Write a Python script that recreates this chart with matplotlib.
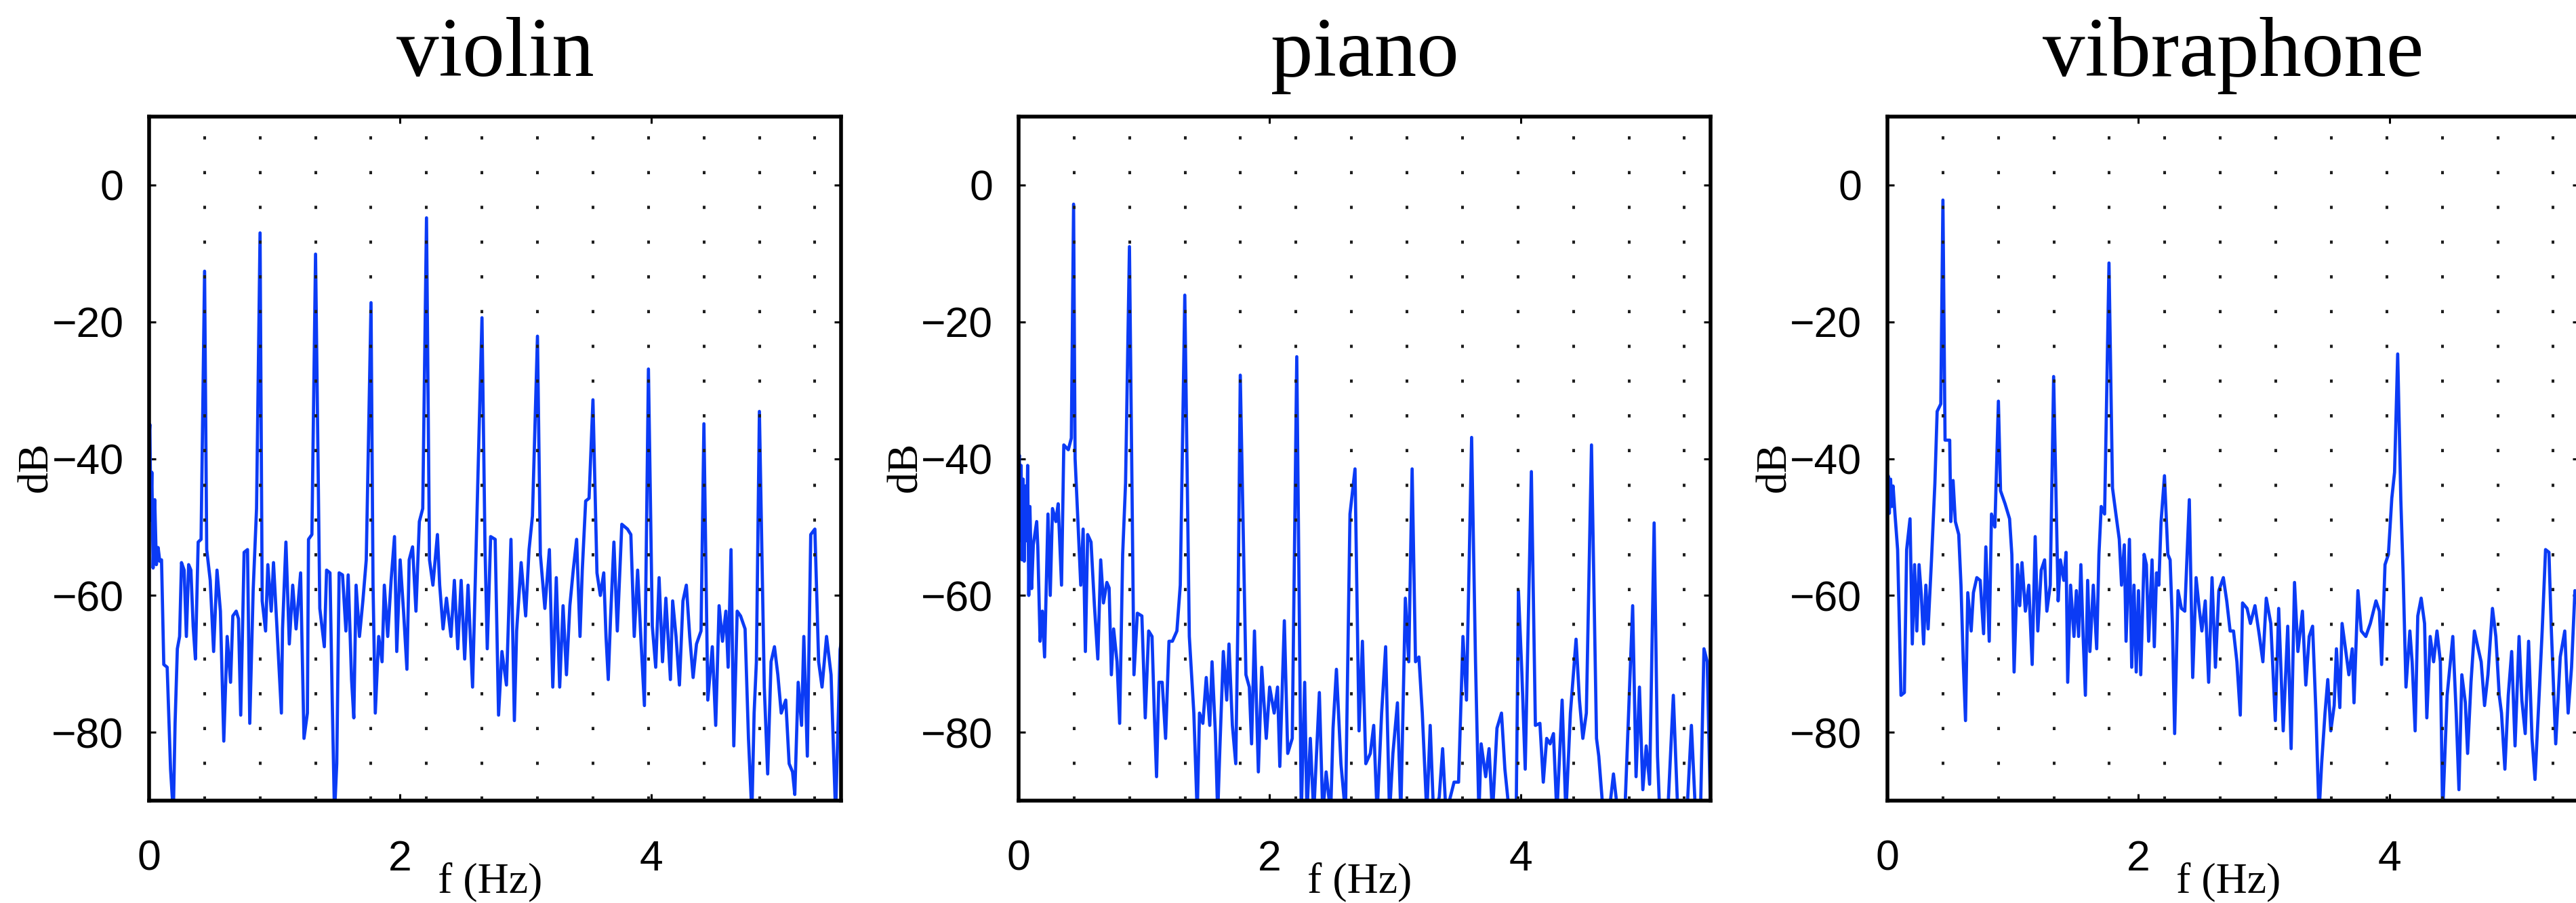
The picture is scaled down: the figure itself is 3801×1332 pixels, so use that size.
import numpy as np
import matplotlib.pyplot as plt

# =============== DATA ===========================================
TITLES = ["violin", "piano", "vibraphone"]
XLIM = (0, 5.5125)
YLIM = (-90, 10)
XTICKS = [0, 2, 4]
YTICKS = [0, -20, -40, -60, -80]
# dotted grid columns sit on the harmonics of the note
GRID_F = [0.442, 0.884, 1.326, 1.768, 2.210, 2.652,
          3.094, 3.536, 3.978, 4.420, 4.862, 5.304]

# (frequency, level dB) vertices of each spectrum
violin = [
    (0.000, -37.0), (0.006, -35.0), (0.014, -49.0), (0.022, -42.0), (0.032, -56.0),
    (0.045, -46.0), (0.058, -55.5), (0.072, -53.0), (0.085, -55.0), (0.099, -54.8),
    (0.117, -70.1), (0.144, -70.5), (0.171, -85.4), (0.193, -92.0), (0.207, -78.7),
    (0.225, -67.8), (0.243, -66.0), (0.258, -55.2), (0.279, -56.3), (0.297, -66.0),
    (0.315, -55.5), (0.333, -56.3), (0.351, -64.5), (0.369, -69.3), (0.391, -52.2),
    (0.414, -51.8), (0.442, -12.6), (0.459, -53.3), (0.487, -57.8), (0.514, -68.2),
    (0.541, -56.3), (0.568, -62.3), (0.595, -81.3), (0.622, -66.0), (0.649, -72.7),
    (0.667, -63.0), (0.694, -62.3), (0.712, -63.4), (0.730, -77.5), (0.757, -53.7),
    (0.784, -53.3), (0.802, -78.7), (0.829, -59.3), (0.856, -47.3), (0.884, -7.0),
    (0.901, -60.8), (0.928, -65.2), (0.946, -55.5), (0.973, -62.3), (0.991, -55.2),
    (1.018, -64.5), (1.054, -77.2), (1.063, -64.9), (1.090, -52.2), (1.117, -67.1),
    (1.144, -58.5), (1.171, -64.9), (1.207, -56.7), (1.234, -80.9), (1.261, -77.2),
    (1.270, -51.8), (1.297, -51.1), (1.326, -10.1), (1.360, -61.9), (1.396, -67.5),
    (1.414, -56.3), (1.441, -56.7), (1.459, -75.3), (1.477, -92.0), (1.495, -84.6),
    (1.514, -56.7), (1.541, -57.0), (1.568, -65.2), (1.586, -57.0), (1.613, -72.3),
    (1.631, -77.9), (1.649, -58.5), (1.676, -66.0), (1.703, -60.8), (1.730, -54.8),
    (1.768, -17.2), (1.784, -58.5), (1.802, -77.2), (1.829, -66.0), (1.856, -69.7),
    (1.874, -58.5), (1.901, -66.0), (1.928, -57.8), (1.955, -51.4), (1.973, -68.2),
    (2.000, -54.8), (2.027, -62.3), (2.054, -70.8), (2.072, -54.8), (2.099, -52.9),
    (2.126, -62.3), (2.153, -49.2), (2.180, -47.3), (2.210, -4.8), (2.234, -54.8),
    (2.261, -58.5), (2.297, -51.1), (2.315, -58.5), (2.342, -64.9), (2.369, -60.4),
    (2.405, -66.0), (2.432, -57.8), (2.459, -67.8), (2.486, -57.8), (2.514, -69.3),
    (2.541, -58.5), (2.577, -73.4), (2.613, -47.3), (2.652, -19.4), (2.676, -52.9),
    (2.694, -67.8), (2.721, -51.4), (2.757, -51.8), (2.784, -77.5), (2.811, -68.2),
    (2.847, -73.1), (2.883, -51.8), (2.910, -78.3), (2.928, -65.2), (2.964, -55.2),
    (3.000, -63.0), (3.027, -53.3), (3.054, -48.4), (3.094, -22.1), (3.117, -54.0),
    (3.153, -61.9), (3.189, -53.3), (3.216, -73.4), (3.244, -57.4), (3.271, -73.4),
    (3.298, -61.5), (3.325, -71.6), (3.352, -61.5), (3.379, -56.3), (3.406, -51.8),
    (3.433, -66.0), (3.451, -56.3), (3.478, -46.2), (3.505, -45.8), (3.536, -31.4),
    (3.568, -56.7), (3.595, -60.0), (3.622, -56.7), (3.640, -66.0), (3.658, -72.3),
    (3.676, -63.4), (3.703, -52.2), (3.730, -65.2), (3.766, -49.6), (3.811, -50.3),
    (3.838, -51.1), (3.865, -66.0), (3.892, -56.3), (3.919, -66.7), (3.946, -76.1),
    (3.978, -26.9), (4.009, -64.5), (4.036, -70.5), (4.063, -57.4), (4.090, -69.7),
    (4.117, -60.4), (4.153, -72.3), (4.171, -60.8), (4.198, -66.0), (4.225, -73.1),
    (4.253, -60.8), (4.280, -58.5), (4.307, -66.0), (4.334, -72.0), (4.361, -67.1),
    (4.397, -65.2), (4.420, -34.9), (4.451, -75.3), (4.487, -67.5), (4.514, -79.0),
    (4.541, -61.5), (4.568, -66.7), (4.595, -62.3), (4.613, -70.5), (4.636, -53.3),
    (4.658, -82.0), (4.685, -62.3), (4.712, -63.0), (4.748, -64.9), (4.775, -80.9),
    (4.802, -92.0), (4.820, -77.2), (4.838, -69.7), (4.862, -33.1), (4.901, -73.4),
    (4.928, -86.1), (4.955, -69.7), (4.982, -67.5), (5.009, -71.6), (5.036, -77.2),
    (5.072, -75.3), (5.099, -84.6), (5.126, -85.8), (5.144, -89.1), (5.171, -72.7),
    (5.198, -79.0), (5.216, -66.0), (5.244, -83.5), (5.271, -51.1), (5.304, -50.3),
    (5.334, -69.7), (5.361, -73.4), (5.397, -66.0), (5.433, -71.6), (5.469, -92.0),
    (5.505, -67.9), (5.5125, -67.0),
]

piano = [
    (0.000, -41.0), (0.006, -39.5), (0.012, -52.0), (0.020, -41.0), (0.027, -54.8),
    (0.036, -43.0), (0.045, -55.0), (0.054, -44.0), (0.063, -52.0), (0.072, -41.0),
    (0.081, -60.0), (0.090, -47.0), (0.104, -59.0), (0.117, -52.6), (0.144, -49.2),
    (0.153, -52.9), (0.171, -66.7), (0.189, -62.3), (0.207, -69.0), (0.234, -48.1),
    (0.252, -60.0), (0.270, -47.3), (0.297, -49.2), (0.315, -46.6), (0.342, -58.5),
    (0.360, -38.0), (0.396, -38.7), (0.420, -37.0), (0.438, -2.8), (0.450, -40.0),
    (0.468, -47.3), (0.495, -58.5), (0.514, -50.3), (0.532, -68.2), (0.550, -51.1),
    (0.577, -52.2), (0.604, -61.5), (0.631, -69.3), (0.654, -54.8), (0.676, -61.1),
    (0.703, -58.1), (0.721, -58.9), (0.739, -71.6), (0.757, -64.9), (0.784, -69.7),
    (0.805, -78.7), (0.829, -54.0), (0.852, -43.6), (0.883, -9.0), (0.919, -71.6),
    (0.946, -62.6), (0.982, -63.0), (1.009, -77.9), (1.036, -65.2), (1.063, -66.0),
    (1.081, -77.2), (1.099, -86.5), (1.117, -72.7), (1.144, -72.7), (1.171, -80.9),
    (1.198, -66.7), (1.225, -66.7), (1.261, -65.2), (1.288, -58.5), (1.324, -16.1),
    (1.360, -66.0), (1.396, -77.2), (1.423, -92.0), (1.441, -77.2), (1.468, -78.7),
    (1.495, -72.0), (1.523, -79.0), (1.541, -69.7), (1.568, -80.2), (1.586, -92.0),
    (1.604, -82.0), (1.631, -68.2), (1.658, -75.3), (1.676, -67.1), (1.703, -79.0),
    (1.730, -84.6), (1.748, -62.3), (1.766, -27.8), (1.811, -71.6), (1.838, -73.4),
    (1.856, -81.7), (1.879, -65.2), (1.910, -85.8), (1.937, -70.5), (1.973, -80.9),
    (2.000, -73.4), (2.036, -77.2), (2.063, -73.4), (2.081, -85.0), (2.117, -63.7),
    (2.144, -83.1), (2.180, -80.9), (2.216, -25.1), (2.252, -92.0), (2.279, -72.7),
    (2.297, -92.0), (2.324, -80.9), (2.351, -92.0), (2.396, -74.2), (2.423, -92.0),
    (2.450, -85.8), (2.486, -92.0), (2.505, -79.4), (2.532, -70.8), (2.568, -84.6),
    (2.604, -92.0), (2.640, -48.1), (2.680, -41.5), (2.712, -79.8), (2.739, -66.7),
    (2.766, -84.6), (2.802, -83.1), (2.829, -79.0), (2.856, -92.0), (2.892, -77.2),
    (2.924, -67.5), (2.955, -92.0), (2.982, -83.1), (3.018, -75.7), (3.045, -92.0),
    (3.081, -60.4), (3.108, -69.7), (3.135, -41.5), (3.162, -69.7), (3.189, -69.0),
    (3.216, -77.2), (3.252, -92.0), (3.279, -79.0), (3.306, -92.0), (3.351, -89.5),
    (3.378, -82.4), (3.405, -92.0), (3.469, -87.3), (3.505, -87.3), (3.540, -66.0),
    (3.568, -75.3), (3.609, -36.9), (3.640, -69.7), (3.667, -92.0), (3.685, -81.7),
    (3.721, -86.5), (3.748, -82.4), (3.775, -92.0), (3.811, -79.4), (3.847, -77.2),
    (3.874, -85.4), (3.910, -92.0), (3.964, -92.0), (3.982, -59.3), (4.009, -71.2),
    (4.036, -85.4), (4.085, -41.9), (4.117, -79.0), (4.153, -78.7), (4.180, -87.3),
    (4.207, -80.9), (4.234, -81.7), (4.261, -80.2), (4.288, -92.0), (4.330, -75.3),
    (4.360, -92.0), (4.396, -77.2), (4.441, -66.4), (4.468, -75.3), (4.495, -80.9),
    (4.523, -77.2), (4.564, -38.0), (4.604, -80.9), (4.622, -83.5), (4.658, -92.0),
    (4.703, -92.0), (4.739, -86.1), (4.775, -92.0), (4.829, -92.0), (4.892, -61.5),
    (4.919, -86.5), (4.946, -73.4), (4.973, -88.4), (5.000, -82.0), (5.027, -87.6),
    (5.063, -49.4), (5.090, -83.5), (5.108, -92.0), (5.171, -92.0), (5.216, -74.6),
    (5.252, -92.0), (5.324, -92.0), (5.360, -79.0), (5.393, -92.0), (5.432, -92.0),
    (5.460, -67.8), (5.486, -69.7), (5.5125, -92.0),
]

vibraphone = [
    (0.000, -46.0), (0.006, -42.5), (0.015, -48.0), (0.025, -43.0), (0.035, -47.0),
    (0.045, -44.0), (0.060, -48.1), (0.081, -53.3), (0.108, -74.6), (0.135, -74.2),
    (0.153, -53.3), (0.180, -48.8), (0.198, -67.1), (0.216, -55.5), (0.234, -65.2),
    (0.252, -55.5), (0.270, -60.0), (0.288, -67.1), (0.306, -58.5), (0.324, -64.9),
    (0.351, -54.8), (0.378, -43.6), (0.396, -33.1), (0.425, -32.0), (0.442, -2.2),
    (0.459, -37.3), (0.496, -37.3), (0.505, -49.2), (0.523, -43.2), (0.541, -49.2),
    (0.568, -51.1), (0.586, -58.5), (0.604, -69.7), (0.622, -78.3), (0.640, -59.6),
    (0.667, -65.2), (0.685, -59.6), (0.712, -57.4), (0.739, -57.8), (0.766, -65.6),
    (0.784, -52.9), (0.811, -66.7), (0.829, -48.1), (0.856, -50.0), (0.884, -31.6),
    (0.901, -44.7), (0.937, -46.6), (0.973, -48.8), (0.991, -54.0), (1.009, -71.2),
    (1.036, -55.5), (1.054, -61.5), (1.072, -55.2), (1.099, -62.3), (1.126, -58.5),
    (1.153, -70.1), (1.177, -51.4), (1.198, -65.2), (1.225, -56.3), (1.252, -54.8),
    (1.270, -62.3), (1.297, -58.5), (1.324, -28.0), (1.360, -60.8), (1.378, -54.8),
    (1.405, -57.8), (1.423, -53.7), (1.436, -72.7), (1.459, -58.5), (1.486, -66.0),
    (1.505, -59.3), (1.523, -66.0), (1.541, -55.5), (1.559, -66.0), (1.577, -74.6),
    (1.595, -57.8), (1.613, -68.2), (1.640, -58.5), (1.667, -67.8), (1.685, -54.0),
    (1.703, -47.0), (1.730, -48.1), (1.765, -11.4), (1.793, -44.3), (1.820, -48.1),
    (1.847, -51.8), (1.865, -58.5), (1.887, -52.6), (1.901, -66.7), (1.928, -51.8),
    (1.946, -70.5), (1.964, -58.5), (1.982, -71.2), (2.000, -59.3), (2.018, -71.6),
    (2.045, -54.0), (2.063, -55.5), (2.081, -66.7), (2.108, -54.8), (2.126, -67.5),
    (2.144, -56.7), (2.162, -58.5), (2.180, -49.2), (2.207, -42.5), (2.234, -54.0),
    (2.252, -54.8), (2.270, -64.1), (2.288, -80.2), (2.315, -59.3), (2.342, -61.9),
    (2.369, -62.3), (2.405, -46.0), (2.432, -72.0), (2.459, -57.4), (2.486, -62.3),
    (2.505, -65.2), (2.532, -60.8), (2.559, -72.7), (2.586, -57.4), (2.613, -70.5),
    (2.640, -59.3), (2.676, -57.4), (2.703, -60.8), (2.730, -65.2), (2.757, -65.2),
    (2.784, -69.7), (2.811, -77.5), (2.829, -61.1), (2.865, -61.9), (2.892, -64.1),
    (2.928, -61.5), (2.964, -66.0), (2.991, -69.7), (3.018, -60.4), (3.054, -64.1),
    (3.090, -78.3), (3.117, -61.9), (3.153, -79.8), (3.189, -64.5), (3.216, -82.4),
    (3.243, -58.1), (3.270, -68.2), (3.306, -62.3), (3.333, -73.1), (3.360, -66.0),
    (3.387, -64.5), (3.414, -77.2), (3.438, -92.0), (3.459, -84.6), (3.486, -77.2),
    (3.508, -72.3), (3.532, -79.8), (3.559, -76.1), (3.577, -67.8), (3.604, -76.4),
    (3.622, -64.1), (3.649, -67.8), (3.676, -71.6), (3.703, -67.8), (3.717, -75.7),
    (3.748, -59.3), (3.775, -65.2), (3.811, -66.0), (3.847, -64.1), (3.892, -60.8),
    (3.919, -62.3), (3.937, -70.1), (3.964, -55.5), (3.991, -54.0), (4.018, -45.8),
    (4.040, -42.0), (4.065, -24.7), (4.090, -46.0), (4.108, -56.7), (4.131, -73.4),
    (4.162, -65.2), (4.180, -69.7), (4.204, -79.8), (4.225, -63.0), (4.252, -60.4),
    (4.279, -64.1), (4.297, -77.9), (4.324, -66.0), (4.351, -69.7), (4.378, -65.2),
    (4.405, -69.7), (4.423, -92.0), (4.459, -74.6), (4.504, -66.0), (4.531, -77.2),
    (4.553, -88.4), (4.576, -71.6), (4.604, -75.7), (4.622, -83.1), (4.649, -72.7),
    (4.676, -65.2), (4.703, -67.5), (4.730, -69.7), (4.757, -76.1), (4.784, -71.6),
    (4.820, -61.9), (4.847, -66.0), (4.874, -74.6), (4.892, -77.2), (4.919, -85.4),
    (4.946, -74.6), (4.973, -68.2), (5.000, -82.0), (5.032, -66.0), (5.054, -75.3),
    (5.081, -80.2), (5.108, -66.7), (5.135, -80.9), (5.159, -86.9), (5.189, -75.7),
    (5.216, -65.2), (5.243, -53.3), (5.270, -53.7), (5.288, -64.5), (5.324, -81.7),
    (5.360, -69.0), (5.396, -65.2), (5.423, -77.2), (5.450, -70.5), (5.477, -59.3),
    (5.500, -62.0), (5.5125, -65.0),
]
SPECTRA = [violin, piano, vibraphone]
# =================================================

plt.rcParams["lines.scale_dashes"] = False
SERIF = "Liberation Serif"
SANS = "Liberation Sans"
LINE_BLUE = "#0b3bf5"

W, H = 3801, 1332
fig = plt.figure(figsize=(W / 100, H / 100), dpi=100)

# axes boxes in pixels: left edges, width, bottom, height
AX_LEFT = [220, 1503, 2785]
AX_W, AX_B, AX_H = 1021, 151, 1009

for left, name, spec in zip(AX_LEFT, TITLES, SPECTRA):
    ax = fig.add_axes([left / W, AX_B / H, AX_W / W, AX_H / H])
    freq, level = np.array(spec).T

    ax.plot(freq, level, color=LINE_BLUE, lw=3.4, zorder=2)

    # dotted grid on the harmonics, drawn over the trace
    for gf in GRID_F:
        ax.plot([gf, gf], [YLIM[1], YLIM[0]], color="#1e1e1e", lw=2.9,
                linestyle=(16.0, (3.4, 33.5)), dash_capstyle="butt", zorder=3)

    ax.set_xlim(*XLIM)
    ax.set_ylim(*YLIM)
    ax.set_xticks(XTICKS)
    ax.set_yticks(YTICKS)
    ax.tick_params(direction="in", length=7, width=2.2, top=True, right=True,
                   labelsize=45, colors="black")
    ax.tick_params(axis="x", pad=41)
    ax.tick_params(axis="y", pad=27)
    for lab in ax.get_xticklabels() + ax.get_yticklabels():
        lab.set_family(SANS)
    for sp in ax.spines.values():
        sp.set_linewidth(4.0)
        sp.set_color("black")

    ax.set_title(name, fontsize=90, family=SERIF, pad=43)
    # y label sits just left of the tick numbers
    ax.text(-0.148, 0.4876, "dB", transform=ax.transAxes, rotation=90,
            ha="center", va="baseline", rotation_mode="anchor",
            fontsize=46, family=SERIF)
    ax.text(0.493, -0.1338, "f (Hz)", transform=ax.transAxes,
            ha="center", va="baseline", fontsize=46, family=SERIF)

fig.savefig("out.png", dpi=100)
